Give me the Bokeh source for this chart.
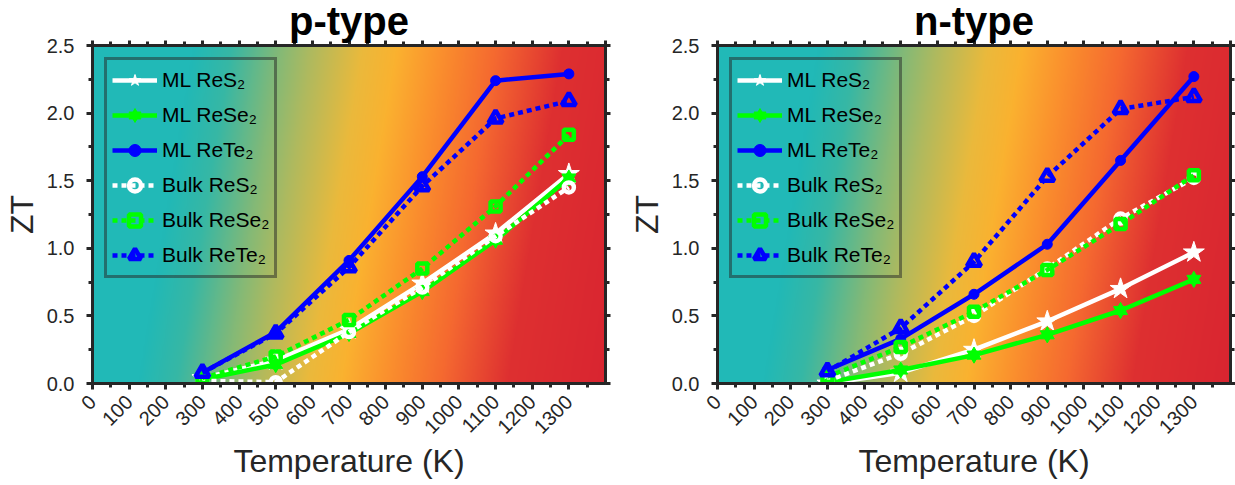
import numpy as np
from bokeh.plotting import figure
from bokeh.layouts import row
from bokeh.models import (FixedTicker, Legend, LegendItem, LinearAxis, Range1d,
                          NumeralTickFormatter, CustomLabelingPolicy)
from bokeh.embed import file_html
from bokeh.resources import INLINE

# ---------------- data ----------------
temps = [300, 500, 700, 900, 1100, 1300]
series_names = ["ML ReS₂", "ML ReSe₂", "ML ReTe₂", "Bulk ReS₂", "Bulk ReSe₂", "Bulk ReTe₂"]

p_ml_res2 = [0.04, 0.17, 0.40, 0.74, 1.11, 1.55]
p_ml_rese2 = [0.03, 0.14, 0.37, 0.68, 1.06, 1.52]
p_ml_rete2 = [0.08, 0.38, 0.91, 1.53, 2.24, 2.29]
p_bulk_res2 = [0.02, 0.01, 0.38, 0.71, 1.09, 1.45]
p_bulk_rese2 = [0.04, 0.20, 0.47, 0.85, 1.31, 1.84]
p_bulk_rete2 = [0.08, 0.37, 0.86, 1.46, 1.96, 2.09]

n_ml_res2 = [0.00, 0.08, 0.25, 0.46, 0.70, 0.97]
n_ml_rese2 = [0.01, 0.10, 0.21, 0.36, 0.54, 0.77]
n_ml_rete2 = [0.10, 0.33, 0.66, 1.03, 1.65, 2.27]
n_bulk_res2 = [0.02, 0.22, 0.50, 0.85, 1.22, 1.52]
n_bulk_rese2 = [0.05, 0.27, 0.53, 0.84, 1.18, 1.54]
n_bulk_rete2 = [0.09, 0.41, 0.90, 1.53, 2.03, 2.12]

x_ticks = list(range(0, 1301, 100))
x_minor = list(range(50, 1400, 100))
x_ticks_top = list(range(0, 1401, 100))
y_ticks = [0.0, 0.5, 1.0, 1.5, 2.0, 2.5]
y_minor = [0.25, 0.75, 1.25, 1.75, 2.25]

# ---------------- styles ----------------
FONT = "Liberation Sans"
DARK = "#262626"
WHITE, GREEN, BLUE = "#ffffff", "#00ff00", "#0000ff"
DOT = "5 4"
styles = [
    dict(color=WHITE, dash="solid", markers=[("star", 22, True)]),
    dict(color=GREEN, dash="solid", markers=[("triangle", 14, True), ("inverted_triangle", 14, True)]),
    dict(color=BLUE, dash="solid", markers=[("circle", 10, True)]),
    dict(color=WHITE, dash=DOT, markers=[("circle", 10, False)]),
    dict(color=GREEN, dash=DOT, markers=[("square", 10, False)]),
    dict(color=BLUE, dash=DOT, markers=[("triangle", 14, False)]),
]

# background gradient (style only)
stops_k = [0, 200, 304, 434, 524, 664, 756, 894, 1029, 1209, 1600]
stops_c = [(33, 185, 183), (33, 185, 183), (55, 183, 165), (130, 185, 120), (175, 185, 95),
           (235, 185, 60), (250, 178, 48), (250, 140, 45), (245, 105, 48), (222, 48, 48),
           (215, 32, 48)]

NO_LABELS = CustomLabelingPolicy(code="for (const i of indices) { indices.unset(i) } return indices")


def gradient_image():
    nx, ny = 700, 120
    xs = np.linspace(0, 1400, nx)
    ys = np.linspace(0, 2.5, ny)
    X, Y = np.meshgrid(xs, ys)
    keff = X + 60 * (1.25 - Y)
    img = np.empty((ny, nx), dtype=np.uint32)
    view = img.view(dtype=np.uint8).reshape((ny, nx, 4))
    for i in range(3):
        view[:, :, i] = np.interp(keff, stops_k, [c[i] for c in stops_c]).astype(np.uint8)
    view[:, :, 3] = 255
    return img


def style_ticks(ax, tick_out):
    ax.axis_line_color = DARK
    ax.axis_line_width = 3
    ax.major_tick_line_color = DARK
    ax.minor_tick_line_color = DARK
    ax.major_tick_line_width = 3
    ax.minor_tick_line_width = 3
    ax.major_tick_in = 0
    ax.major_tick_out = tick_out
    ax.minor_tick_in = 0
    ax.minor_tick_out = 4


def make_fig(title_text, series, left_border, right_border):
    p = figure(frame_width=513, frame_height=338,
               min_border_left=left_border, min_border_right=right_border,
               min_border_top=45, min_border_bottom=102,
               x_range=Range1d(0, 1400), y_range=Range1d(0, 2.5),
               output_backend="svg", toolbar_location=None,
               outline_line_color=DARK, outline_line_width=3,
               background_fill_color="white", border_fill_color="white")
    p.grid.visible = False
    p.image_rgba(image=[gradient_image()], x=0, y=0, dw=1400, dh=2.5)

    p.title.text = title_text
    p.title.align = "center"
    p.title.text_font = FONT
    p.title.text_font_size = "40px"
    p.title.text_font_style = "bold"
    p.title.text_color = "black"
    p.title.text_line_height = 0.85
    p.title.standoff = -13
    p.title.offset = 0

    # axes
    xa = p.xaxis[0]
    xa.ticker = FixedTicker(ticks=x_ticks, minor_ticks=x_minor)
    xa.major_label_orientation = np.pi / 4
    xa.axis_label = "Temperature (K)"
    ya = p.yaxis[0]
    ya.ticker = FixedTicker(ticks=y_ticks, minor_ticks=y_minor)
    ya.formatter = NumeralTickFormatter(format="0.0")
    ya.axis_label = "ZT"
    for ax in (xa, ya):
        ax.major_label_text_font = FONT
        ax.major_label_text_font_size = "20px"
        ax.major_label_text_color = DARK
        ax.axis_label_text_font = FONT
        ax.axis_label_text_font_size = "32px"
        ax.axis_label_text_font_style = "normal"
        ax.axis_label_text_color = DARK
        style_ticks(ax, 6)
    xa.major_label_standoff = 9
    xa.axis_label_standoff = 0
    ya.major_label_standoff = 12
    ya.axis_label_standoff = 4

    top = LinearAxis(ticker=FixedTicker(ticks=x_ticks_top, minor_ticks=x_minor),
                     major_label_policy=NO_LABELS)
    right = LinearAxis(ticker=FixedTicker(ticks=y_ticks, minor_ticks=y_minor),
                       major_label_policy=NO_LABELS)
    for ax in (top, right):
        ax.major_label_text_font_size = "1px"
        ax.major_label_standoff = 0
        style_ticks(ax, 5)
    p.add_layout(top, "above")
    p.add_layout(right, "right")

    items = []
    for name, vals, st in zip(series_names, series, styles):
        rs = [p.line(temps, vals, line_color=st["color"], line_width=4.5,
                     line_dash=st["dash"])]
        for mk, size, filled in st["markers"]:
            if filled:
                r = p.scatter(temps, vals, marker=mk, size=size, fill_color=st["color"],
                              line_color=st["color"], line_width=1)
            else:
                r = p.scatter(temps, vals, marker=mk, size=size, fill_color=None,
                              line_color=st["color"], line_width=4.5)
            rs.append(r)
        items.append(LegendItem(label=name, renderers=rs))

    legend = Legend(items=items, location="top_left", margin=12, padding=5, spacing=5,
                    glyph_width=45, glyph_height=30, label_height=30, label_standoff=5,
                    label_text_font=FONT, label_text_font_size="21px",
                    label_text_color="black", border_line_color=DARK,
                    border_line_width=3, background_fill_alpha=0)
    p.add_layout(legend)
    return p


p_series = [p_ml_res2, p_ml_rese2, p_ml_rete2, p_bulk_res2, p_bulk_rese2, p_bulk_rete2]
n_series = [n_ml_res2, n_ml_rese2, n_ml_rete2, n_bulk_res2, n_bulk_rese2, n_bulk_rete2]

left = make_fig("p-type", p_series, 92, 12)
right_fig = make_fig("n-type", n_series, 100, 5)
layout = row(left, right_fig)

open("out.html", "w").write(file_html(layout, INLINE))
